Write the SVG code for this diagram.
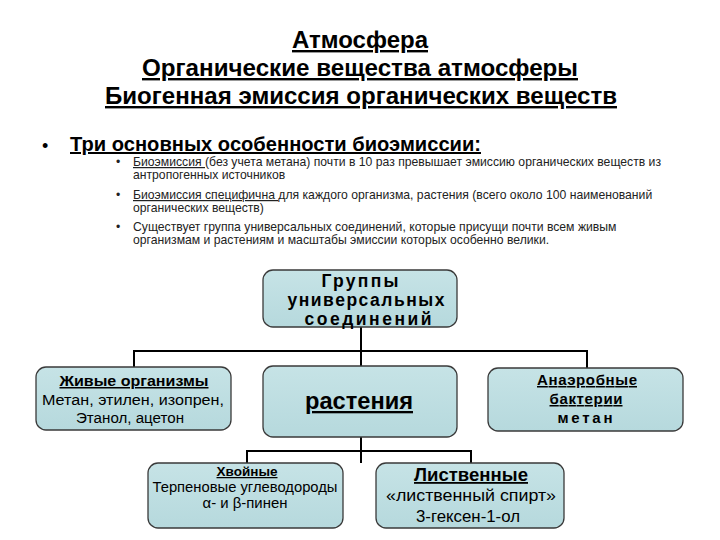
<svg xmlns="http://www.w3.org/2000/svg" width="720" height="540" viewBox="0 0 720 540">
<defs>
<linearGradient id="g" x1="0" y1="0" x2="0" y2="1">
<stop offset="0" stop-color="#c6e3e6"/>
<stop offset="1" stop-color="#b6d9dd"/>
</linearGradient>
</defs>
<style>
text{font-family:"Liberation Sans",Arial,sans-serif;fill:#000}
.t{font-size:24px;font-weight:bold;text-anchor:middle;text-decoration:underline}
.h{font-size:20px;font-weight:bold;text-decoration:underline}
.s{font-size:12.2px;fill:#222}
.box{fill:url(#g);stroke:#3a3a3a;stroke-width:1.3}
.c{fill:none;stroke:#000;stroke-width:2}
.m{text-anchor:middle}
.u{text-decoration:underline}
.b{font-weight:bold}
</style>
<rect width="720" height="540" fill="#fff"/>
<g id="title">
<text class="t" x="360" y="48" textLength="136" lengthAdjust="spacingAndGlyphs">Атмосфера</text>
<text class="t" x="360" y="76" textLength="436" lengthAdjust="spacingAndGlyphs">Органические вещества атмосферы</text>
<text class="t" x="361" y="104" textLength="512" lengthAdjust="spacingAndGlyphs">Биогенная эмиссия органических веществ</text>
</g>
<g id="bullets">
<text x="42" y="152" style="font-size:18px">•</text>
<text class="h" x="70" y="151" textLength="411" lengthAdjust="spacingAndGlyphs">Три основных особенности биоэмиссии:</text>
<text class="s" x="116" y="166">•</text>
<text class="s" x="133" y="166"><tspan class="u">Биоэмиссия </tspan>(без учета метана) почти в 10 раз превышает эмиссию органических веществ из</text>
<text class="s" x="133" y="179">антропогенных источников</text>
<text class="s" x="116" y="199">•</text>
<text class="s" x="133" y="199"><tspan class="u">Биоэмиссия специфична </tspan>для каждого организма, растения (всего около 100 наименований</text>
<text class="s" x="133" y="212">органических веществ)</text>
<text class="s" x="116" y="231">•</text>
<text class="s" x="133" y="231">Существует группа универсальных соединений, которые присущи почти всем живым</text>
<text class="s" x="133" y="244">организмам и растениям и масштабы эмиссии которых особенно велики.</text>
</g>
<g id="connectors">
<path class="c" d="M361 327V366M134 367V351H587V368"/>
<path class="c" d="M361 437V463M247 463V451H471V463"/>
</g>
<g id="groups">
<rect class="box" x="263" y="270" width="194" height="57" rx="10"/>
<text class="m b" x="360" y="287" style="font-size:17.5px" textLength="77" lengthAdjust="spacing">Группы</text>
<text class="m b" x="366" y="306" style="font-size:17.5px" textLength="157" lengthAdjust="spacing">универсальных</text>
<text class="m b" x="368" y="325" style="font-size:17.5px" textLength="127" lengthAdjust="spacing">соединений</text>
</g>
<g id="living">
<rect class="box" x="36" y="367" width="195" height="63" rx="10"/>
<text class="m u b" x="134" y="386" style="font-size:15px" textLength="149" lengthAdjust="spacingAndGlyphs">Живые организмы</text>
<text class="m" x="133" y="405" style="font-size:15.5px" textLength="182" lengthAdjust="spacingAndGlyphs">Метан, этилен, изопрен,</text>
<text class="m" x="130" y="423" style="font-size:15.5px" textLength="108" lengthAdjust="spacingAndGlyphs">Этанол, ацетон</text>
</g>
<g id="plants">
<rect class="box" x="263" y="366" width="194" height="71" rx="10"/>
<text class="m u b" x="359" y="409" style="font-size:23px" textLength="108" lengthAdjust="spacingAndGlyphs">растения</text>
</g>
<g id="anaerobic">
<rect class="box" x="488" y="368" width="195" height="63" rx="10"/>
<text class="m u b" x="587" y="385" style="font-size:15px" textLength="100" lengthAdjust="spacing">Анаэробные</text>
<text class="m u b" x="586" y="404" style="font-size:15px" textLength="73" lengthAdjust="spacing">бактерии</text>
<text class="m b" x="585" y="423" style="font-size:15px" textLength="55" lengthAdjust="spacing">метан</text>
</g>
<g id="conifers">
<rect class="box" x="148" y="463" width="195" height="65" rx="10"/>
<text class="m u b" x="247" y="476" style="font-size:12.5px" textLength="61" lengthAdjust="spacingAndGlyphs">Хвойные</text>
<text class="m" x="245" y="492" style="font-size:14.5px" textLength="185" lengthAdjust="spacingAndGlyphs">Терпеновые углеводороды</text>
<text class="m" x="245" y="508" style="font-size:14.5px" textLength="85" lengthAdjust="spacingAndGlyphs">α- и β-пинен</text>
</g>
<g id="deciduous">
<rect class="box" x="376" y="463" width="188" height="65" rx="10"/>
<text class="m u b" x="471" y="481" style="font-size:18px" textLength="114" lengthAdjust="spacingAndGlyphs">Лиственные</text>
<text class="m" x="471" y="501" style="font-size:17px" textLength="170" lengthAdjust="spacingAndGlyphs">«лиственный спирт»</text>
<text class="m" x="468" y="522" style="font-size:17px" textLength="104" lengthAdjust="spacingAndGlyphs">3-гексен-1-ол</text>
</g>
</svg>
